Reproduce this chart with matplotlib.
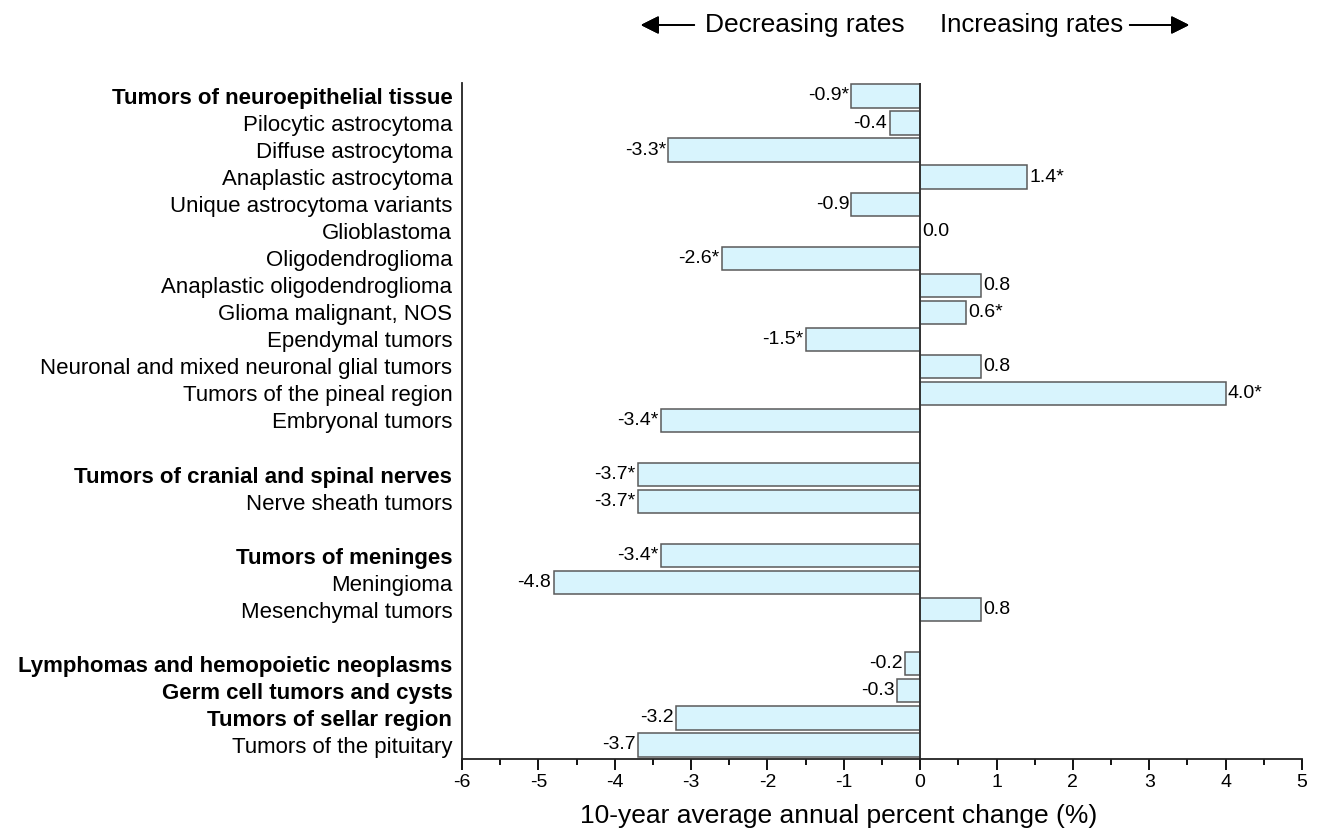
import numpy as np
import matplotlib.pyplot as plt

plt.rcParams['font.family'] = ['Liberation Sans', 'DejaVu Sans']
plt.rcParams['axes.unicode_minus'] = False

labels = ['Tumors of neuroepithelial tissue', 'Pilocytic astrocytoma', 'Diffuse astrocytoma',
          'Anaplastic astrocytoma', 'Unique astrocytoma variants', 'Glioblastoma',
          'Oligodendroglioma', 'Anaplastic oligodendroglioma', 'Glioma malignant, NOS',
          'Ependymal tumors', 'Neuronal and mixed neuronal glial tumors',
          'Tumors of the pineal region', 'Embryonal tumors',
          'Tumors of cranial and spinal nerves', 'Nerve sheath tumors',
          'Tumors of meninges', 'Meningioma', 'Mesenchymal tumors',
          'Lymphomas and hemopoietic neoplasms', 'Germ cell tumors and cysts',
          'Tumors of sellar region', 'Tumors of the pituitary']
apc = [-0.9, -0.4, -3.3, 1.4, -0.9, 0.0, -2.6, 0.8, 0.6, -1.5, 0.8, 4.0, -3.4,
       -3.7, -3.7,
       -3.4, -4.8, 0.8,
       -0.2, -0.3, -3.2, -3.7]
signif = [1, 0, 1, 1, 0, 0, 1, 0, 1, 1, 0, 1, 1,
          1, 1,
          1, 0, 0,
          0, 0, 0, 0]
headers = ['Tumors of neuroepithelial tissue', 'Tumors of cranial and spinal nerves',
           'Tumors of meninges', 'Lymphomas and hemopoietic neoplasms',
           'Germ cell tumors and cysts', 'Tumors of sellar region']
# row slots, with blank rows between groups
rows = list(range(13)) + [14, 15] + [17, 18, 19] + [21, 22, 23, 24]

fig = plt.figure(figsize=(13.2, 8.32), dpi=100)
ax = fig.add_axes([462 / 1320, 1 - 759 / 832, 840 / 1320, 676 / 832])

ax.barh(rows, apc, height=0.86, color='#d8f4fd', edgecolor='#5a5a5a', linewidth=1.1)
ax.axvline(0, color='#333333', linewidth=1.4)

for y, v, s in zip(rows, apc, signif):
    txt = '%.1f' % v + ('*' if s else '')
    if v < 0:
        ax.text(v - 0.03, y, txt, ha='right', va='center', fontsize=14)
    else:
        ax.text(v + 0.03, y, txt, ha='left', va='center', fontsize=14)

ax.set_yticks(rows)
ax.set_yticklabels(labels, fontsize=16)
for t in ax.get_yticklabels():
    if t.get_text() in headers:
        t.set_fontweight('bold')
ax.tick_params(axis='y', length=0, pad=7)

ax.set_xlim(-6, 5)
ax.set_ylim(24.52, -0.48)
ax.set_xticks(np.arange(-6, 6, 1))
ax.set_xticks(np.arange(-5.5, 5, 1), minor=True)
ax.tick_params(axis='x', which='major', length=8, width=1.3, labelsize=14, pad=3)
ax.tick_params(axis='x', which='minor', length=4, width=1.3)
ax.set_xlabel('10-year average annual percent change (%)', fontsize=19)
ax.xaxis.set_label_coords(0.448, -0.066)

for side in ['top', 'right']:
    ax.spines[side].set_visible(False)
for side in ['left', 'bottom']:
    ax.spines[side].set_linewidth(1.3)
    ax.spines[side].set_color('#222222')

# direction arrows above the plot
fig.text(805 / 1320, 1 - 25 / 832, 'Decreasing rates', ha='center', va='center', fontsize=19)
fig.text(1032 / 1320, 1 - 25 / 832, 'Increasing rates', ha='center', va='center', fontsize=18.5)
arrow = dict(arrowstyle='-|>,head_length=1.1,head_width=0.55', color='black', lw=1.3)
fig.add_artist(plt.annotate('', xy=(638 / 1320, 1 - 25 / 832), xytext=(697 / 1320, 1 - 25 / 832),
                            xycoords='figure fraction', arrowprops=arrow))
fig.add_artist(plt.annotate('', xy=(1192 / 1320, 1 - 25 / 832), xytext=(1127 / 1320, 1 - 25 / 832),
                            xycoords='figure fraction', arrowprops=arrow))

fig.savefig('out.png', dpi=100)
